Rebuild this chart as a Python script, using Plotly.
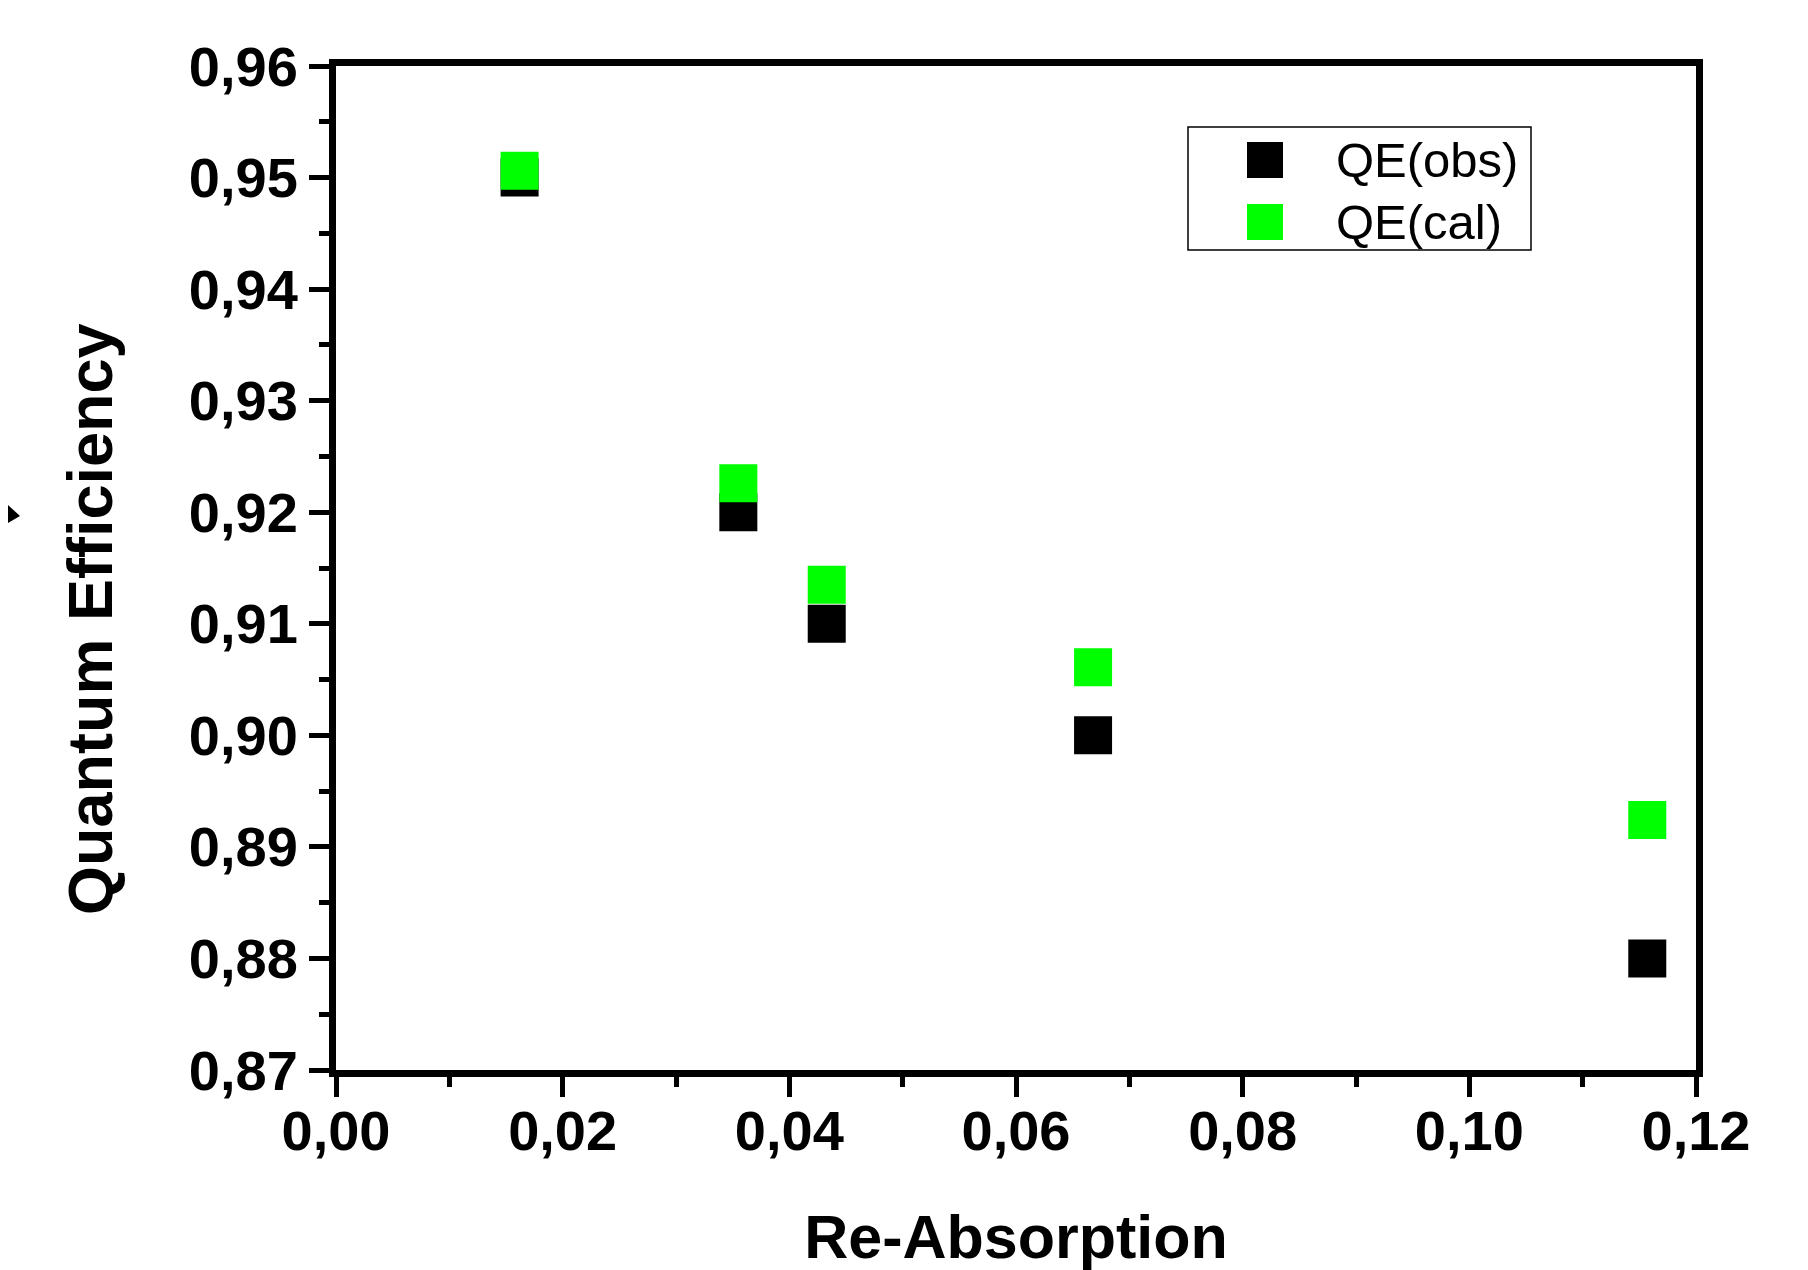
import plotly.graph_objects as go

# Data
re_absorption = [0.0162, 0.0355, 0.0433, 0.0668, 0.1157]
qe_obs = [0.950, 0.920, 0.910, 0.900, 0.880]
qe_cal = [0.9506, 0.9226, 0.9135, 0.9061, 0.8924]
series_names = ["QE(obs)", "QE(cal)"]
series_colors = ["#000000", "#00FF00"]

W, H = 1808, 1270
OFF = 8  # page body margin
LW = 7
L, R, T, B = 328, 120, 58, 208
PW, PH = W - L - R, H - T - B


def px(x):
    # screen pixel -> paper x
    return (x - OFF - L) / PW


def py(y):
    # screen pixel -> paper y
    return (H - B - (y - OFF)) / PH


FONT = "Liberation Sans, Arial, Helvetica, sans-serif"

fig = go.Figure()
for name, ys, col in zip(series_names, [qe_obs, qe_cal], series_colors):
    fig.add_trace(go.Scatter(
        x=re_absorption, y=ys, mode="markers", name=name,
        marker=dict(symbol="square", size=38, color=col, line=dict(width=0)),
        showlegend=False,
    ))

axis_common = dict(
    showgrid=False, zeroline=False, showline=True, linecolor="black",
    linewidth=LW, mirror=True, ticks="outside", tickcolor="black",
    tickwidth=5, ticklen=20, tickformat=".2f", automargin=False,
    tickfont=dict(family=FONT, size=56, color="black", weight="bold"),
)
minor_common = dict(ticks="outside", ticklen=10, tickwidth=5, tickcolor="black")

fig.update_layout(
    width=W, height=H,
    margin=dict(l=L, r=R, t=T, b=B),
    paper_bgcolor="white", plot_bgcolor="white",
    separators=",.",
    showlegend=False,
    xaxis=dict(
        range=[0, 0.12], dtick=0.02, tick0=0,
        minor=dict(dtick=0.01, **minor_common),
        ticklabelstandoff=-14,
        title=dict(text="Re-Absorption", standoff=57,
                   font=dict(family=FONT, size=61, color="black", weight="bold")),
        **axis_common,
    ),
    yaxis=dict(
        range=[0.87, 0.96], dtick=0.01, tick0=0.87,
        minor=dict(dtick=0.005, **minor_common),
        **axis_common,
    ),
)

# Y axis title (placed like the reference, slightly below plot centre)
fig.add_annotation(xref="paper", yref="paper", x=px(90), y=py(619),
                   text="<b>Quantum Efficiency</b>", textangle=-90, showarrow=False,
                   xanchor="center", yanchor="middle",
                   font=dict(family=FONT, size=63, color="black"))

# Legend (drawn manually to match large legend symbols)
fig.add_shape(type="rect", xref="paper", yref="paper",
              x0=px(1188), x1=px(1531), y0=py(250), y1=py(127),
              line=dict(color="black", width=1.5), fillcolor="white", layer="below")
for i, (name, col) in enumerate(zip(series_names, series_colors)):
    cy = 160 + i * 62
    fig.add_shape(type="rect", xref="paper", yref="paper",
                  x0=px(1265 - 18), x1=px(1265 + 18), y0=py(cy + 18), y1=py(cy - 18),
                  line=dict(width=0), fillcolor=col)
    fig.add_annotation(xref="paper", yref="paper", x=px(1334), y=py(cy),
                       text=name, showarrow=False, xanchor="left", yanchor="middle",
                       font=dict(family=FONT, size=49, color="black"))

# small cropped arrow mark at left edge
fig.add_shape(type="path", xref="paper", yref="paper",
              path=f"M {px(8)},{py(505)} L {px(20)},{py(516)} L {px(8)},{py(523)} Z",
              fillcolor="black", line=dict(width=0))

fig.write_html("out.html")
